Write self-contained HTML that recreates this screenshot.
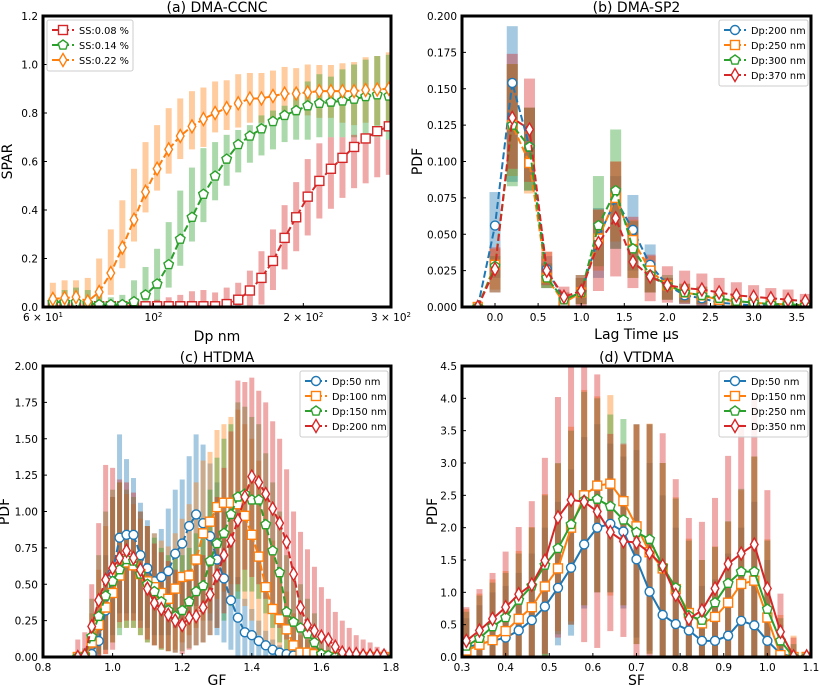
<!DOCTYPE html>
<html><head><meta charset="utf-8"><style>
html,body{margin:0;padding:0;background:#fff;}
svg{display:block;font-family:"DejaVu Sans","Liberation Sans",sans-serif;}
</style></head><body>
<svg id="fig" width="819" height="685" viewBox="0 0 819 685"></svg>
<script>
// ---------- Panel (a) data ----------
const aSizes=[62.8,66.3,69.9,73.8,77.8,82.1,86.6,91.4,96.4,101.7,107.3,113.2,119.5,126.0,133.0,140.3,148.0,156.2,164.8,173.8,183.4,193.5,204.1,215.4,227.2,239.7,252.9,266.8,281.5,297.0];
const aOrange=[0.033,0.037,0.041,0.023,0.062,0.14,0.245,0.36,0.475,0.57,0.65,0.705,0.745,0.775,0.80,0.82,0.84,0.86,0.86,0.87,0.88,0.88,0.885,0.89,0.89,0.89,0.89,0.895,0.897,0.90];
const aOrangeHi=[0.10,0.11,0.11,0.12,0.20,0.32,0.44,0.57,0.68,0.75,0.82,0.86,0.89,0.905,0.93,0.935,0.96,0.965,0.965,0.975,0.99,0.985,1.0,0.998,0.998,1.005,1.01,1.03,1.035,1.05];
const aOrangeLo=[0,0,0,0,0,0.05,0.16,0.27,0.39,0.48,0.55,0.61,0.65,0.66,0.72,0.73,0.74,0.76,0.76,0.78,0.78,0.79,0.79,0.78,0.78,0.76,0.75,0.76,0.75,0.74];
const aGreen=[0.02,0.02,0.02,0.015,0.01,0.01,0.01,0.022,0.05,0.095,0.175,0.28,0.37,0.465,0.54,0.61,0.67,0.705,0.735,0.765,0.79,0.81,0.83,0.84,0.845,0.85,0.857,0.868,0.875,0.87];
const aGreenHi=[0.05,0.07,0.08,0.07,0.05,0.04,0.05,0.11,0.165,0.24,0.35,0.48,0.575,0.655,0.68,0.71,0.73,0.75,0.79,0.81,0.83,0.90,0.93,0.96,0.95,0.98,1.0,1.02,1.035,1.04];
const aGreenLo=[0,0,0,0,0,0,0,0,0,0,0.08,0.17,0.27,0.35,0.44,0.50,0.555,0.595,0.625,0.65,0.68,0.69,0.69,0.70,0.70,0.70,0.70,0.70,0.70,0.69];
const aRed=[0.003,0.003,0.003,0.003,0.003,0.003,0.003,0.003,0.003,0.003,0.003,0.003,0.003,0.003,0.003,0.012,0.03,0.068,0.12,0.19,0.285,0.37,0.455,0.52,0.57,0.615,0.66,0.695,0.725,0.745];
const aRedHi=[0.02,0.02,0.02,0.02,0.02,0.01,0.01,0.01,0.02,0.03,0.04,0.05,0.065,0.07,0.06,0.08,0.10,0.15,0.23,0.32,0.42,0.515,0.61,0.675,0.70,0.70,0.71,0.70,0.70,0.69];
const aRedLo=[0,0,0,0,0,0,0,0,0,0,0,0,0,0,0,0,0,0,0.01,0.07,0.155,0.23,0.295,0.365,0.405,0.45,0.49,0.51,0.535,0.545];
const aYTicks=[0,0.2,0.4,0.6,0.8,1.0,1.2];

// ---------- Panel (b) data ----------
const bLag=[-0.2,0,0.2,0.4,0.6,0.8,1.0,1.2,1.4,1.6,1.8,2.0,2.2,2.4,2.6,2.8,3.0,3.2,3.4,3.6,3.8];
const b200=[0,0.056,0.154,0.11,0.026,0.005,0.01,0.048,0.074,0.053,0.029,0.015,0.008,0.006,0.003,0.002,0.001,0.001,0.001,0.001,0.001];
const b200Hi=[0,0.079,0.193,0.137,0.035,0.01,0.02,0.068,0.09,0.077,0.043,0.02,0.01,0.008,0.005,0.003,0.002,0.002,0.002,0.001,0.001];
const b200Lo=[0,0.02,0.086,0.08,0.013,0,0.002,0.02,0.04,0.025,0.01,0.005,0.002,0.001,0,0,0,0,0,0,0];
const b250=[0,0.029,0.125,0.099,0.02,0.003,0.01,0.047,0.075,0.046,0.025,0.015,0.01,0.008,0.005,0.004,0.003,0.002,0.002,0.001,0.001];
const b250Hi=[0,0.04,0.167,0.137,0.038,0.01,0.02,0.067,0.1,0.06,0.035,0.02,0.016,0.014,0.01,0.008,0.006,0.004,0.004,0.003,0.002];
const b250Lo=[0,0.012,0.09,0.078,0.013,0,0.002,0.025,0.045,0.02,0.01,0.005,0.003,0.002,0.001,0,0,0,0,0,0];
const b300=[0,0.028,0.125,0.11,0.02,0.005,0.01,0.056,0.080,0.04,0.022,0.015,0.01,0.008,0.006,0.004,0.003,0.002,0.002,0.001,0.001];
const b300Hi=[0,0.035,0.167,0.137,0.03,0.008,0.022,0.09,0.122,0.059,0.03,0.022,0.016,0.014,0.01,0.008,0.006,0.004,0.004,0.003,0.002];
const b300Lo=[0,0.01,0.083,0.08,0.013,0.001,0.002,0.028,0.04,0.02,0.01,0.005,0.003,0.002,0.001,0,0,0,0,0,0];
const b370=[0,0.026,0.13,0.122,0.025,0.007,0.011,0.044,0.061,0.031,0.021,0.015,0.013,0.012,0.01,0.008,0.007,0.006,0.005,0.004,0.003];
const b370Hi=[0,0.041,0.174,0.157,0.038,0.014,0.022,0.067,0.1,0.062,0.036,0.028,0.025,0.023,0.02,0.017,0.015,0.013,0.012,0.009,0.008];
const b370Lo=[0,0.01,0.095,0.086,0.015,0,0.001,0.011,0.021,0.013,0.004,0.003,0.002,0.001,0.001,0,0,0,0,0,0];
const bXTicks=[0,0.5,1.0,1.5,2.0,2.5,3.0,3.5];
const bYTicks=[0,0.025,0.05,0.075,0.1,0.125,0.15,0.175,0.2];

// ---------- Panel (c) data ----------
const cGF=[0.90,0.92,0.94,0.96,0.98,1.00,1.02,1.04,1.06,1.08,1.10,1.12,1.14,1.16,1.18,1.20,1.22,1.24,1.26,1.28,1.30,1.32,1.34,1.36,1.38,1.40,1.42,1.44,1.46,1.48,1.50,1.52,1.54,1.56,1.58,1.60,1.62,1.64,1.66,1.68,1.70,1.72,1.74,1.76,1.78];
const c50=[0,0,0.02,0.11,0.32,0.58,0.82,0.84,0.84,0.70,0.61,0.52,0.55,0.59,0.71,0.78,0.90,0.98,0.92,0.83,0.67,0.54,0.39,0.27,0.17,0.15,0.11,0.08,0.05,0.03,0.02,0.01,0,0,0,0,0,0,0,0,0,0,0,0,0];
const c50Hi=[0,0,0.05,0.3,0.7,1.1,1.53,1.36,1.23,1.06,0.94,0.85,0.88,1.02,1.15,1.22,1.38,1.53,1.46,1.33,1.2,1.0,0.8,0.55,0.4,0.33,0.25,0.18,0.12,0.08,0.05,0.03,0.01,0.01,0.01,0.01,0.01,0.01,0.01,0.01,0.01,0.01,0.01,0.01,0.01];
const c50Lo=[0,0,0,0,0.05,0.15,0.3,0.3,0.3,0.25,0.2,0.15,0.15,0.15,0.2,0.25,0.3,0.35,0.3,0.25,0.15,0.1,0.05,0,0,0,0,0,0,0,0,0,0,0,0,0,0,0,0,0,0,0,0,0,0];
const c100=[0,0,0.1,0.22,0.34,0.44,0.56,0.65,0.63,0.57,0.52,0.48,0.44,0.40,0.47,0.55,0.56,0.67,0.85,0.93,1.03,1.06,1.06,1.05,0.97,0.84,0.69,0.48,0.33,0.26,0.19,0.08,0.03,0.03,0.02,0.01,0,0,0,0,0,0,0,0,0];
const c100Hi=[0,0.05,0.3,0.6,0.9,1.1,1.2,1.12,1.05,0.95,0.9,0.85,0.8,0.76,0.85,0.95,1.05,1.2,1.35,1.41,1.56,1.6,1.65,1.7,1.6,1.5,1.35,1.1,0.8,0.6,0.45,0.3,0.15,0.12,0.1,0.06,0.03,0.02,0.01,0.01,0.01,0.01,0.01,0.01,0.01];
const c100Lo=[0,0,0,0,0.02,0.1,0.2,0.2,0.2,0.15,0.1,0.08,0.05,0.04,0.05,0.1,0.15,0.2,0.25,0.3,0.4,0.45,0.5,0.45,0.35,0.25,0.15,0.08,0.03,0,0,0,0,0,0,0,0,0,0,0,0,0,0,0,0];
const c150=[0,0.01,0.14,0.28,0.42,0.52,0.60,0.67,0.66,0.57,0.50,0.45,0.38,0.32,0.28,0.32,0.38,0.45,0.49,0.66,0.78,0.85,0.98,1.10,1.12,1.08,1.08,0.91,0.73,0.58,0.31,0.24,0.20,0.16,0.10,0.02,0.01,0,0,0,0,0,0,0,0];
const c150Hi=[0,0.06,0.4,0.7,1.0,1.15,1.2,1.15,1.1,1.0,0.9,0.82,0.75,0.7,0.68,0.7,0.75,0.85,0.95,1.15,1.37,1.5,1.6,1.75,1.72,1.65,1.6,1.4,1.2,1.0,0.7,0.6,0.5,0.4,0.3,0.15,0.08,0.05,0.03,0.02,0.01,0.01,0.01,0.01,0.01];
const c150Lo=[0,0,0,0.02,0.05,0.1,0.15,0.2,0.2,0.15,0.1,0.08,0.05,0.04,0.03,0.04,0.06,0.08,0.1,0.15,0.2,0.25,0.35,0.4,0.45,0.45,0.4,0.3,0.2,0.1,0.05,0.02,0,0,0,0,0,0,0,0,0,0,0,0,0];
const c200=[0,0.01,0.21,0.39,0.53,0.61,0.68,0.73,0.68,0.60,0.47,0.37,0.33,0.29,0.25,0.22,0.27,0.28,0.34,0.43,0.56,0.70,0.80,0.94,1.10,1.24,1.20,1.12,1.02,0.92,0.79,0.57,0.34,0.22,0.18,0.14,0.12,0.07,0.03,0.02,0.02,0.01,0.01,0.01,0.01];
const c200Hi=[0.12,0.17,0.5,0.92,1.32,1.3,1.22,1.2,1.13,1.0,0.9,0.78,0.72,0.66,0.6,0.55,0.6,0.65,0.7,0.85,1.1,1.3,1.55,1.9,1.89,1.92,1.83,1.75,1.62,1.5,1.29,1.0,0.86,0.74,0.62,0.48,0.4,0.31,0.25,0.2,0.15,0.12,0.1,0.07,0.05];
const c200Lo=[0,0,0,0,0.02,0.05,0.24,0.25,0.25,0.2,0.12,0.08,0.06,0.04,0.03,0.02,0.05,0.08,0.1,0.15,0.2,0.3,0.4,0.5,0.6,0.55,0.5,0.4,0.3,0.2,0.12,0.06,0.03,0.01,0,0,0,0,0,0,0,0,0,0,0];
const cXTicks=[0.8,1.0,1.2,1.4,1.6,1.8];
const cYTicks=[0,0.25,0.5,0.75,1.0,1.25,1.5,1.75,2.0];

// ---------- Panel (d) data ----------
const dSF=[0.31,0.34,0.37,0.40,0.43,0.46,0.49,0.52,0.55,0.58,0.61,0.64,0.67,0.70,0.73,0.76,0.79,0.82,0.85,0.88,0.91,0.94,0.97,1.00,1.03,1.06,1.09];
const d50=[0.15,0.2,0.25,0.3,0.41,0.57,0.78,1.07,1.38,1.74,2.0,2.06,1.94,1.51,1.01,0.65,0.51,0.41,0.25,0.25,0.33,0.56,0.49,0.25,0.05,0,0];
const d50Hi=[0.6,0.8,1.0,1.1,1.3,1.6,2.0,2.4,2.9,3.4,3.6,3.3,3.1,3.2,3.0,2.5,2.0,1.5,1.1,1.2,1.6,2.0,2.4,1.5,0.5,0.1,0.05];
const d50Lo=[0,0,0,0,0,0,0,0.18,0.33,0.75,1.0,1.0,0.75,0.3,0.1,0,0,0,0,0,0,0,0,0,0,0,0];
const d150=[0.1,0.19,0.26,0.4,0.59,0.77,1.09,1.37,2.0,2.5,2.65,2.68,2.41,2.02,1.62,1.37,1.05,0.68,0.52,0.62,0.84,1.13,1.18,0.61,0.03,0,0];
const d150Hi=[0.74,0.98,1.2,1.33,1.64,2.01,2.52,2.99,3.56,4.13,4.03,4.05,3.28,3.59,3.61,3.0,2.47,1.83,1.5,1.71,2.09,2.58,3.1,1.82,0.65,0.33,0.07];
const d150Lo=[0,0,0,0,0,0,0.02,0.4,0.55,0.8,1.0,0.95,0.8,0.2,0.05,0,0,0,0,0,0,0,0,0,0,0,0];
const d250=[0.17,0.29,0.47,0.61,0.88,1.1,1.42,1.68,2.05,2.42,2.44,2.33,2.12,1.93,1.82,1.4,1.07,0.64,0.57,0.84,1.14,1.32,1.32,0.74,0.25,0,0];
const d250Hi=[0.7,0.95,1.15,1.3,1.6,2.0,2.5,3.0,3.5,4.1,4.0,3.75,3.68,3.6,3.6,3.0,2.45,1.8,1.5,1.7,2.1,2.6,3.1,1.8,0.6,0.2,0.07];
const d250Lo=[0,0,0,0,0,0,0.02,0.35,0.5,0.8,1.0,1.0,0.8,0.2,0.05,0,0,0,0,0,0,0,0,0,0,0,0];
const d350=[0.25,0.41,0.59,0.77,0.97,1.12,1.49,2.16,2.43,2.4,2.25,1.93,1.79,1.77,1.61,1.41,0.96,0.59,0.72,1.06,1.44,1.6,1.74,1.06,0.39,0.01,0.01];
const d350Hi=[0.77,1.05,1.3,1.63,2.01,2.41,3.08,4.02,4.5,4.5,4.37,3.45,3.3,3.6,3.6,3.46,2.75,2.15,2.09,2.46,3.11,3.6,4.0,2.58,0.98,0.3,0.08];
const d350Lo=[0,0,0,0,0,0,0.05,0.3,0.5,0.23,0.14,0.4,0.31,0,0,0,0,0,0,0,0,0,0,0,0,0,0];
const dXTicks=[0.3,0.4,0.5,0.6,0.7,0.8,0.9,1.0,1.1];
const dYTicks=[0,0.5,1.0,1.5,2.0,2.5,3.0,3.5,4.0,4.5];

const BLUE='#1f77b4',ORANGE='#ff7f0e',GREEN='#2ca02c',RED='#d62728';
const NS='http://www.w3.org/2000/svg';
const fig=document.getElementById('fig');
function mk(tag,attrs,parent){const e=document.createElementNS(NS,tag);for(const k in attrs)e.setAttribute(k,attrs[k]);(parent||fig).appendChild(e);return e;}

function linScale(d0,d1,r0,r1){return v=>r0+(v-d0)/(d1-d0)*(r1-r0);}
function logScale(d0,d1,r0,r1){return v=>r0+(Math.log10(v)-Math.log10(d0))/(Math.log10(d1)-Math.log10(d0))*(r1-r0);}

function makePanel(id,box,title,xlabel,ylabel,ylabX,xlabY){
  const g=mk('g',{});
  
  
  const clip=mk('clipPath',{id:'clip-'+id},g);
  mk('rect',{x:box.x0,y:box.y0,width:box.x1-box.x0,height:box.y1-box.y0},clip);
  const data=mk('g',{'clip-path':'url(#clip-'+id+')'},g);
  
  
  const t=mk('text',{x:(box.x0+box.x1)/2,y:box.y0-4,'text-anchor':'middle','font-size':14},g);
  t.textContent=title;
  
  
  const xl=mk('text',{x:(box.x0+box.x1)/2,y:xlabY,'text-anchor':'middle','font-size':14},g);
  xl.textContent=xlabel;
  
  
  const cy=(box.y0+box.y1)/2;
  const yl=mk('text',{x:ylabX,y:cy,'text-anchor':'middle','font-size':14,transform:'rotate(-90 '+ylabX+' '+cy+')'},g);
  yl.textContent=ylabel;
  
  
  return {g,data,box};
}

function xTicks(p,vals,sx,fmt,len){
  const b=p.box;
  vals.forEach(v=>{
    const x=sx(v);
    mk('line',{x1:x,x2:x,y1:b.y1,y2:b.y1-(len||4),stroke:'#000','stroke-width':1},p.g);
    if(fmt){
      const t=mk('text',{x:x,y:b.y1+14,'text-anchor':'middle','font-size':10.5},p.g);
      t.innerHTML=fmt(v);
      
      
    }
  });
}
function yTicks(p,vals,sy,fmt){
  const b=p.box;
  vals.forEach(v=>{
    const y=sy(v);
    mk('line',{x1:b.x0,x2:b.x0+4,y1:y,y2:y,stroke:'#000','stroke-width':1},p.g);
    const t=mk('text',{x:b.x0-5,y:y+4,'text-anchor':'end','font-size':10.5},p.g);
    t.textContent=fmt(v);
    
    
  });
}
function frame(p){
  const b=p.box;
  const r=mk('rect',{x:b.x0,y:b.y0,width:b.x1-b.x0,height:b.y1-b.y0,fill:'none',stroke:'#000','stroke-width':3},p.g);
  
  
}
function bars(p,xs,lo,hi,sx,sy,color,w,name){
  const g=mk('g',{},p.data);
  
  
  xs.forEach((v,i)=>{
    const y1=sy(hi[i]),y0=sy(lo[i]);
    const r=mk('rect',{x:sx(v)-w/2,y:Math.min(y0,y1),width:w,height:Math.abs(y0-y1),fill:color,'fill-opacity':0.4},g);
    
    
  });
}
function marker(parent,type,x,y,color){
  let e;
  if(type==='o') e=mk('circle',{cx:x,cy:y,r:4.5},parent);
  else if(type==='s') e=mk('rect',{x:x-4.5,y:y-4.5,width:9,height:9},parent);
  else if(type==='p'){
    let pts=[];for(let k=0;k<5;k++){const a=-Math.PI/2+k*2*Math.PI/5;pts.push((x+5*Math.cos(a)).toFixed(2)+','+(y+5*Math.sin(a)).toFixed(2));}
    e=mk('polygon',{points:pts.join(' ')},parent);
  } else {
    e=mk('polygon',{points:`${x},${y-6.5} ${x+3.8},${y} ${x},${y+6.5} ${x-3.8},${y}`},parent);
  }
  e.setAttribute('fill','#fff');e.setAttribute('stroke',color);e.setAttribute('stroke-width',1.4);
  return e;
}
function series(p,xs,ys,sx,sy,color,mtype,dashed,name){
  const g=mk('g',{},p.data);
  
  
  const d=xs.map((v,i)=>(i?'L':'M')+sx(v).toFixed(2)+','+sy(ys[i]).toFixed(2)).join(' ');
  const path=mk('path',{d:d,fill:'none',stroke:color,'stroke-width':2,'stroke-dasharray':dashed?'7,3':'none'},g);
  
  
  xs.forEach((v,i)=>{
    const m=marker(g,mtype,sx(v),sy(ys[i]),color);
    
    
  });
}
function legend(p,x,y,w,entries,dashed){
  const g=mk('g',{},p.g);
  
  
  mk('rect',{x:x,y:y,width:w,height:entries.length*15+6,rx:2,fill:'#fff','fill-opacity':0.85,stroke:'#ccc','stroke-width':1},g);
  entries.forEach((en,i)=>{
    const yy=y+10+i*15;
    const e=mk('g',{},g);
    
    
    mk('line',{x1:x+5,x2:x+27,y1:yy,y2:yy,stroke:en[1],'stroke-width':2,'stroke-dasharray':dashed?'7,3':'none'},e);
    marker(e,en[2],x+16,yy,en[1]);
    const t=mk('text',{x:x+32,y:yy+4,'font-size':9.8},e);
    t.textContent=en[0];
  });
}

// ---------- Panel A ----------
(function(){
  const p=makePanel('a',{x0:43,x1:391,y0:16,y1:307},'(a) DMA-CCNC','Dp nm','SPAR',12,341);
  const sx=logScale(60,300,43,391), sy=linScale(0,1.2,307,16);
  bars(p,aSizes,aOrangeLo,aOrangeHi,sx,sy,ORANGE,6,'bars-ss-022');
  bars(p,aSizes,aGreenLo,aGreenHi,sx,sy,GREEN,6,'bars-ss-014');
  bars(p,aSizes,aRedLo,aRedHi,sx,sy,RED,6,'bars-ss-008');
  series(p,aSizes,aRed,sx,sy,RED,'s',true,'series-ss-008');
  series(p,aSizes,aGreen,sx,sy,GREEN,'p',true,'series-ss-014');
  series(p,aSizes,aOrange,sx,sy,ORANGE,'d',true,'series-ss-022');
  const lbl={60:'6 × 10<tspan font-size="7" dy="-4">1</tspan>',100:'10<tspan font-size="7" dy="-4">2</tspan>',200:'2 × 10<tspan font-size="7" dy="-4">2</tspan>',300:'3 × 10<tspan font-size="7" dy="-4">2</tspan>'};
  xTicks(p,[60,100,200,300],sx,v=>lbl[v],4);
  xTicks(p,[70,80,90],sx,null,2);
  yTicks(p,aYTicks,sy,v=>v.toFixed(1));
  legend(p,47,20,86,[['SS:0.08 %',RED,'s'],['SS:0.14 %',GREEN,'p'],['SS:0.22 %',ORANGE,'d']],true);
  frame(p);
})();

// ---------- Panel B ----------
(function(){
  const p=makePanel('b',{x0:462,x1:811,y0:16,y1:307},'(b) DMA-SP2','Lag Time μs','PDF',422,339);
  const sx=linScale(-0.383,3.666,462,811), sy=linScale(0,0.2,307,16);
  bars(p,bLag,b200Lo,b200Hi,sx,sy,BLUE,11,'bars-dp200');
  bars(p,bLag,b250Lo,b250Hi,sx,sy,ORANGE,11,'bars-dp250');
  bars(p,bLag,b300Lo,b300Hi,sx,sy,GREEN,11,'bars-dp300');
  bars(p,bLag,b370Lo,b370Hi,sx,sy,RED,11,'bars-dp370');
  series(p,bLag,b200,sx,sy,BLUE,'o',true,'series-dp200');
  series(p,bLag,b250,sx,sy,ORANGE,'s',true,'series-dp250');
  series(p,bLag,b300,sx,sy,GREEN,'p',true,'series-dp300');
  series(p,bLag,b370,sx,sy,RED,'d',true,'series-dp370');
  xTicks(p,bXTicks,sx,v=>v.toFixed(1),4);
  yTicks(p,bYTicks,sy,v=>v.toFixed(3));
  legend(p,719,20,89,[['Dp:200 nm',BLUE,'o'],['Dp:250 nm',ORANGE,'s'],['Dp:300 nm',GREEN,'p'],['Dp:370 nm',RED,'d']],true);
  frame(p);
})();

// ---------- Panel C ----------
(function(){
  const p=makePanel('c',{x0:43,x1:391,y0:366,y1:657},'(c) HTDMA','GF','PDF',9,685);
  const sx=linScale(0.8,1.8,43,391), sy=linScale(0,2.0,657,366);
  bars(p,cGF,c50Lo,c50Hi,sx,sy,BLUE,5,'bars-dp50');
  bars(p,cGF,c100Lo,c100Hi,sx,sy,ORANGE,5,'bars-dp100');
  bars(p,cGF,c150Lo,c150Hi,sx,sy,GREEN,5,'bars-dp150');
  bars(p,cGF,c200Lo,c200Hi,sx,sy,RED,5,'bars-dp200');
  series(p,cGF,c50,sx,sy,BLUE,'o',true,'series-dp50');
  series(p,cGF,c100,sx,sy,ORANGE,'s',true,'series-dp100');
  series(p,cGF,c150,sx,sy,GREEN,'p',true,'series-dp150');
  series(p,cGF,c200,sx,sy,RED,'d',true,'series-dp200');
  xTicks(p,cXTicks,sx,v=>v.toFixed(1),4);
  yTicks(p,cYTicks,sy,v=>v.toFixed(2));
  legend(p,300,371,88,[['Dp:50 nm',BLUE,'o'],['Dp:100 nm',ORANGE,'s'],['Dp:150 nm',GREEN,'p'],['Dp:200 nm',RED,'d']],true);
  frame(p);
})();

// ---------- Panel D ----------
(function(){
  const p=makePanel('d',{x0:462,x1:811,y0:366,y1:657},'(d) VTDMA','SF','PDF',437,685);
  const sx=linScale(0.3,1.1,462,811), sy=linScale(0,4.5,657,366);
  bars(p,dSF,d50Lo,d50Hi,sx,sy,BLUE,6,'bars-dp50');
  bars(p,dSF,d150Lo,d150Hi,sx,sy,ORANGE,6,'bars-dp150');
  bars(p,dSF,d250Lo,d250Hi,sx,sy,GREEN,6,'bars-dp250');
  bars(p,dSF,d350Lo,d350Hi,sx,sy,RED,6,'bars-dp350');
  series(p,dSF,d50,sx,sy,BLUE,'o',false,'series-dp50');
  series(p,dSF,d150,sx,sy,ORANGE,'s',false,'series-dp150');
  series(p,dSF,d250,sx,sy,GREEN,'p',false,'series-dp250');
  series(p,dSF,d350,sx,sy,RED,'d',false,'series-dp350');
  xTicks(p,dXTicks,sx,v=>v.toFixed(1),4);
  yTicks(p,dYTicks,sy,v=>v.toFixed(1));
  legend(p,719,371,89,[['Dp:50 nm',BLUE,'o'],['Dp:150 nm',ORANGE,'s'],['Dp:250 nm',GREEN,'p'],['Dp:350 nm',RED,'d']],false);
  frame(p);
})();
</script>
</body></html>
